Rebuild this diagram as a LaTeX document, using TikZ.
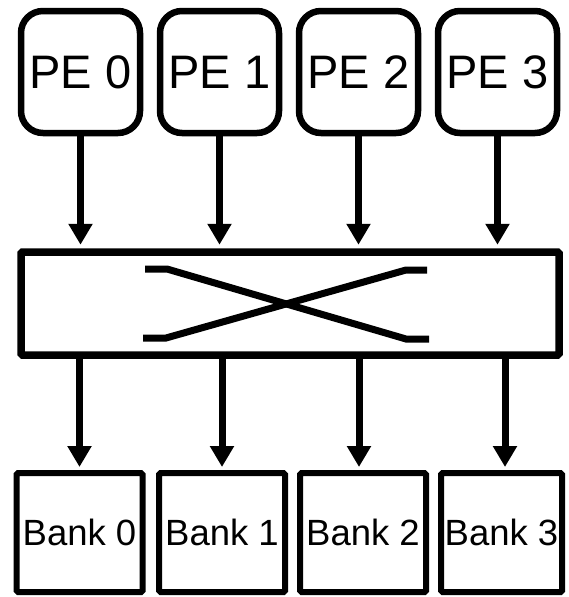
\documentclass[tikz,border=0pt]{standalone}
\usepackage{fontspec}
\setmainfont{Liberation Sans}
\usetikzlibrary{arrows.meta}
\begin{document}
\begin{tikzpicture}[x=1pt,y=-1pt,
  pebox/.style={draw, line width=6.5pt, rounded corners=22pt, minimum width=119pt,
    minimum height=122pt, inner sep=0pt, font=\fontsize{47}{50}\selectfont},
  bankbox/.style={draw, line width=6pt, rounded corners=1.5pt, minimum width=126pt,
    minimum height=119pt, inner sep=0pt, font=\fontsize{36.5}{40}\selectfont},
  xbarbox/.style={draw, line width=7.5pt, rounded corners=1.5pt, minimum width=538pt,
    minimum height=103pt, inner sep=0pt},
  link/.style={line width=7pt, -{Triangle[length=21pt,width=23pt]}},
  wire/.style={line width=7pt}]
\useasboundingbox (0,0) rectangle (568,597);
% processing elements
\node[pebox] (pe0) at (80.5,72) {PE 0};
\node[pebox] (pe1) at (219.5,72) {PE 1};
\node[pebox] (pe2) at (358.5,72) {PE 2};
\node[pebox] (pe3) at (497.5,72) {PE 3};
% crossbar
\node[xbarbox] (xbar) at (290,303.5) {};
\draw[wire] (145,269) -- (167,269) -- (406,339) -- (429,339);
\draw[wire] (143,338) -- (166,338) -- (406,270) -- (427,270);
% memory banks
\node[bankbox] (b0) at (79.5,532.5) {Bank 0};
\node[bankbox] (b1) at (222,532.5) {Bank 1};
\node[bankbox] (b2) at (363,532.5) {Bank 2};
\node[bankbox, minimum width=121pt] (b3) at (501.5,532.5) {Bank 3};
% PE -> crossbar
\foreach \p in {pe0,pe1,pe2,pe3}
  \draw[link, shorten >=3.5pt] (\p.south) -- (\p.south |- xbar.north);
% crossbar -> banks
\draw[link, shorten >=3pt] (xbar.south -| b0.north) -- (b0.north);
\draw[link, shorten >=3pt] (xbar.south -| b1.north) -- (b1.north);
\draw[link, shorten >=3pt] ([xshift=-4pt]xbar.south -| b2.north) -- ([xshift=-4pt]b2.north);
\draw[link, shorten >=3pt] ([xshift=3.5pt]xbar.south -| b3.north) -- ([xshift=3.5pt]b3.north);
\end{tikzpicture}
\end{document}
